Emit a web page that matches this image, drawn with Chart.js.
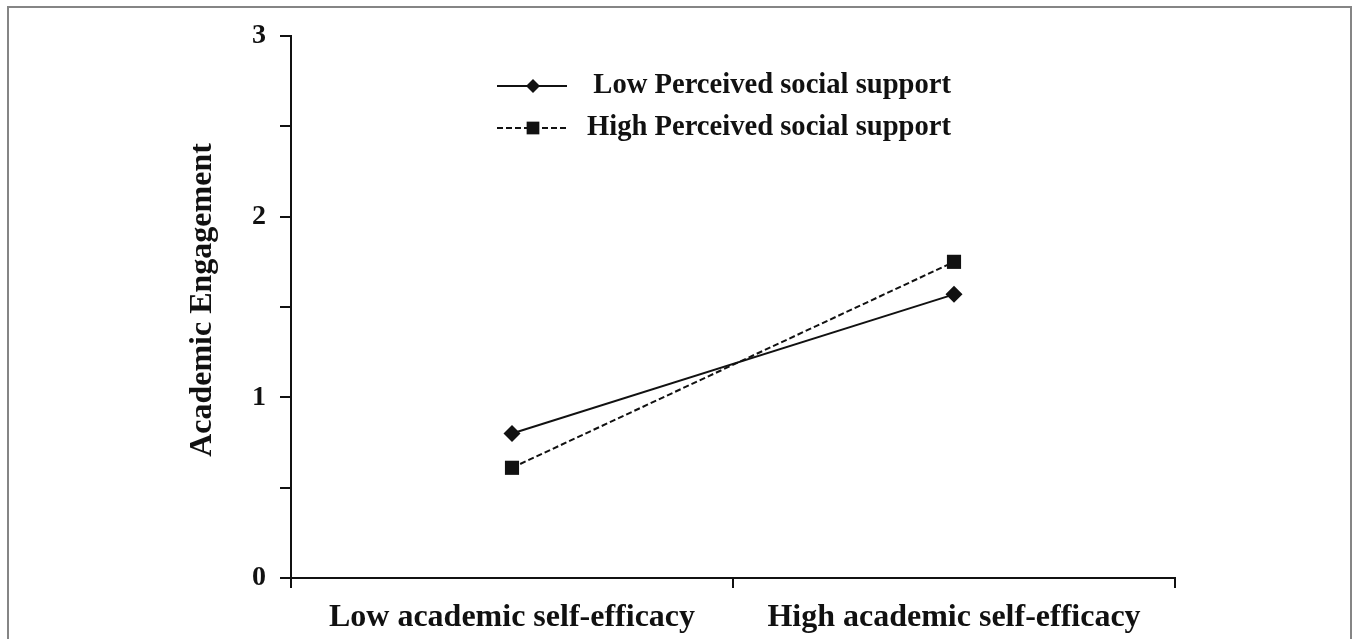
<!DOCTYPE html>
<html>
<head>
<meta charset="utf-8">
<title>Academic Engagement by Self-Efficacy and Perceived Social Support</title>
<script src="https://cdn.jsdelivr.net/npm/chart.js@4/dist/chart.umd.min.js"></script>
<style>
  html, body { margin: 0; padding: 0; background: #ffffff; overflow: hidden; }
  #wrap { position: relative; width: 1357px; height: 639px; }
  #frame {
    position: absolute; left: 7px; top: 6px; width: 1345px; height: 700px;
    border: 2px solid #858585; box-sizing: border-box;
  }
  #chart { position: absolute; left: 0; top: 0; }
</style>
</head>
<body>
<div id="wrap">
  <div id="frame"></div>
  <canvas id="chart" width="1357" height="639"></canvas>
</div>
<script>
// Categories on the x axis
const categories = ['Low academic self-efficacy', 'High academic self-efficacy'];
// Simple slopes: academic engagement at each level of self-efficacy
const lowSupport = [0.80, 1.57];
const highSupport = [0.61, 1.75];
const seriesNames = ['Low Perceived social support', 'High Perceived social support'];
// Y tick values that carry a label
const yTickLabels = [0, 1, 2, 3];
const yTitle = 'Academic Engagement';

const SERIF = '"Liberation Serif", "Times New Roman", serif';
const INK = '#111111';

// Rotated y-axis title, placed a little above the axis midpoint
const yAxisTitle = {
  id: 'yAxisTitle',
  afterDraw(chart) {
    const ctx = chart.ctx;
    ctx.save();
    ctx.translate(203, 300);
    ctx.rotate(-Math.PI / 2);
    ctx.fillStyle = INK;
    ctx.font = 'bold 32px ' + SERIF;
    ctx.textAlign = 'center';
    ctx.textBaseline = 'middle';
    ctx.fillText(yTitle, 0, 0);
    ctx.restore();
  }
};

// Legend drawn as line–marker–line samples, like the series themselves
const sampleLegend = {
  id: 'sampleLegend',
  afterDraw(chart) {
    const ctx = chart.ctx;
    const rows = [
      { ds: 0, y: 86 },
      { ds: 1, y: 128 }
    ];
    ctx.save();
    rows.forEach(r => {
      const d = chart.data.datasets[r.ds];
      const x0 = 497, x1 = 567, xm = 533;
      ctx.strokeStyle = INK;
      ctx.lineWidth = 2;
      ctx.setLineDash(d.borderDash || []);
      ctx.beginPath();
      ctx.moveTo(x0, r.y);
      ctx.lineTo(x1, r.y);
      ctx.stroke();
      ctx.setLineDash([]);
      ctx.fillStyle = INK;
      Chart.helpers.drawPoint(ctx, {
        pointStyle: d.pointStyle,
        radius: d.pointStyle === 'rect' ? 9 : 7,
        borderWidth: 0
      }, xm, r.y);
      ctx.fillStyle = INK;
      ctx.font = 'bold 28.6px ' + SERIF;
      ctx.textAlign = 'right';
      ctx.textBaseline = 'middle';
      ctx.fillText(d.label, 951, r.y);
    });
    ctx.restore();
  }
};

new Chart(document.getElementById('chart'), {
  type: 'line',
  data: {
    labels: categories,
    datasets: [
      {
        label: seriesNames[0],
        data: lowSupport,
        borderColor: INK,
        backgroundColor: INK,
        borderWidth: 2,
        pointStyle: 'rectRot',
        pointRadius: 8.5,
        pointBorderWidth: 0,
        tension: 0
      },
      {
        label: seriesNames[1],
        data: highSupport,
        borderColor: INK,
        backgroundColor: INK,
        borderWidth: 2,
        borderDash: [6, 3],
        pointStyle: 'rect',
        pointRadius: 10,
        pointBorderWidth: 0,
        tension: 0
      }
    ]
  },
  options: {
    responsive: false,
    animation: false,
    layout: { padding: { left: 182, right: 182, top: 36, bottom: 4 } },
    plugins: {
      legend: { display: false },
      tooltip: { enabled: false }
    },
    scales: {
      x: {
        type: 'category',
        offset: true,
        border: { display: true, color: INK, width: 2 },
        grid: {
          offset: true,
          drawOnChartArea: false,
          drawTicks: true,
          tickLength: 10,
          color: INK,
          lineWidth: 2
        },
        ticks: {
          color: INK,
          padding: 11,
          maxRotation: 0,
          font: { family: SERIF, size: 32, weight: 'bold' }
        },
        afterFit(scale) { scale.height = 639 - 578 - 4; }
      },
      y: {
        min: 0,
        max: 3,
        border: { display: true, color: INK, width: 2 },
        grid: {
          drawOnChartArea: false,
          drawTicks: true,
          tickLength: 11,
          color: INK,
          lineWidth: 2
        },
        ticks: {
          stepSize: 0.5,
          color: INK,
          padding: 14,
          font: { family: SERIF, size: 28, weight: 'bold' },
          callback: v => (yTickLabels.includes(v) ? String(v) : '')
        },
        title: { display: false },
        afterFit(scale) { scale.width = 291 - 182; }
      }
    }
  },
  plugins: [sampleLegend, yAxisTitle]
});
</script>
</body>
</html>
